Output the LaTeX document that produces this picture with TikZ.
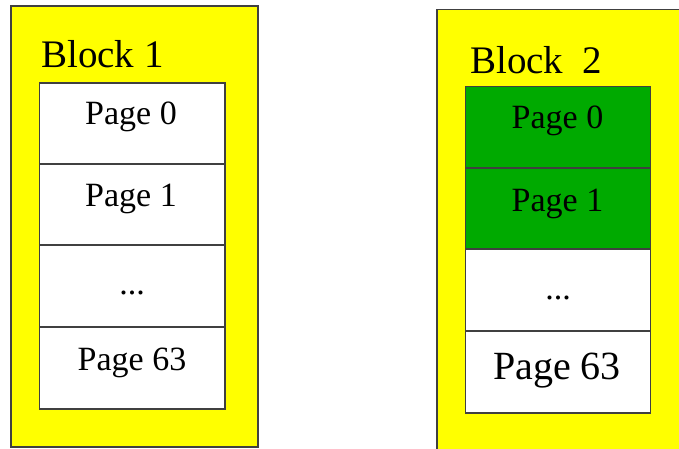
\documentclass[tikz,border=0pt]{standalone}
\usepackage{fontspec}
\setmainfont{Liberation Serif}
\definecolor{blockyellow}{RGB}{255,255,0}
\definecolor{pagegreen}{RGB}{0,170,0}
\definecolor{edgegray}{RGB}{64,64,64}
\tikzset{
  blockbox/.style={draw=edgegray, line width=1.4pt, fill=blockyellow},
  pagebox/.style={draw=edgegray, line width=1.4pt, fill=white, rectangle,
    inner sep=0pt, minimum width=185.5pt, minimum height=82pt},
  usedpage/.style={pagebox, fill=pagegreen},
  blocklabel/.style={anchor=base west, font=\fontsize{39}{39}\selectfont, inner sep=0pt},
  pagelabel/.style={anchor=base, font=\fontsize{34}{34}\selectfont, inner sep=0pt},
  biglabel/.style={anchor=base, font=\fontsize{40}{40}\selectfont, inner sep=0pt}
}
\begin{document}
\begin{tikzpicture}[x=1pt, y=-1pt]
  \useasboundingbox (0,0) rectangle (679,449);
  \clip (0,0) rectangle (679,449);

  % Block 1
  \draw[blockbox] (11,6) rectangle (258,447);
  \node[blocklabel] (b1) at (41,68) {Block 1};
  \node[pagebox] (b1p0) at (132.25,124) {};
  \node[pagebox] (b1p1) at (132.25,205) {};
  \node[pagebox] (b1pd) at (132.25,286) {};
  \node[pagebox] (b1p63) at (132.25,368) {};
  \node[pagelabel] (b1t0) at (131,125) {Page 0};
  \node[pagelabel] (b1t1) at (131,206) {Page 1};
  \node[pagelabel] (b1td) at (132,294) {...};
  \node[pagelabel] (b1t63) at (132,370) {Page 63};

  % Block 2
  \draw[blockbox] (437,9.5) rectangle (700,470);
  \node[blocklabel] (b2) at (470,74) {Block\ \ 2};
  \node[usedpage] (b2p0) at (558,127.5) {};
  \node[usedpage] (b2p1) at (558,209) {};
  \node[pagebox] (b2pd) at (558,290) {};
  \node[pagebox] (b2p63) at (558,372) {};
  \node[pagelabel] (b2t0) at (557.5,129) {Page 0};
  \node[pagelabel] (b2t1) at (557.5,211) {Page 1};
  \node[pagelabel] (b2td) at (558,299) {...};
  \node[biglabel] (b2t63) at (557,379) {Page 63};
\end{tikzpicture}
\end{document}
